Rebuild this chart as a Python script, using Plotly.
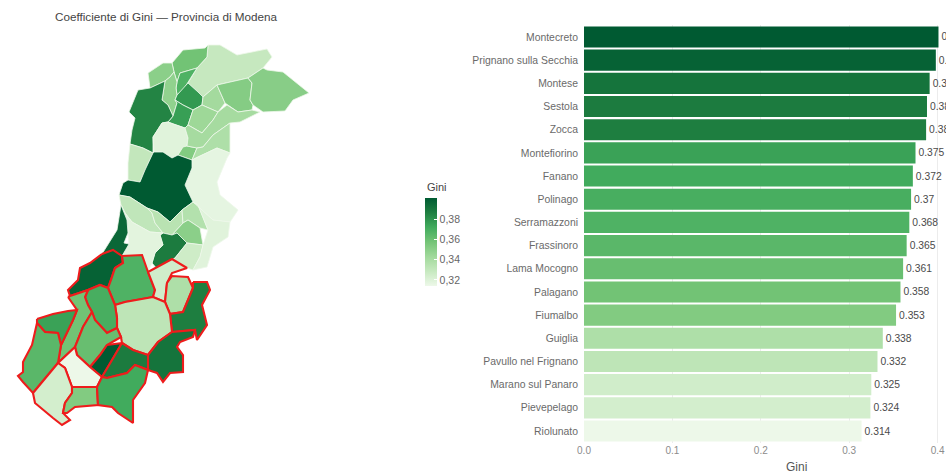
import plotly.graph_objects as go
from plotly.colors import sample_colorscale

# ---------- data ----------
comuni = ["Montecreto", "Prignano sulla Secchia", "Montese", "Sestola", "Zocca",
          "Montefiorino", "Fanano", "Polinago", "Serramazzoni", "Frassinoro",
          "Lama Mocogno", "Palagano", "Fiumalbo", "Guiglia", "Pavullo nel Frignano",
          "Marano sul Panaro", "Pievepelago", "Riolunato"]
gini = [0.401, 0.398, 0.391, 0.388, 0.387, 0.375, 0.372, 0.37, 0.368, 0.365,
        0.361, 0.358, 0.353, 0.338, 0.332, 0.325, 0.324, 0.314]
gini_labels = ["0.4", "0.398", "0.391", "0.388", "0.387", "0.375", "0.372", "0.37", "0.368",
               "0.365", "0.361", "0.358", "0.353", "0.338", "0.332", "0.325", "0.324", "0.314"]
x_ticks = [0.0, 0.1, 0.2, 0.3, 0.4]
x_tick_labels = ["0.0", "0.1", "0.2", "0.3", "0.4"]
bar_ticks = [0.32, 0.34, 0.36, 0.38]
bar_tick_labels = ["0,32", "0,34", "0,36", "0,38"]

# Outlines of the municipalities, in map units.
other_areas = [
    (0.329, [(208,45),(220,45),(237,55),(267,49),(272,57),(263,68),(248,78),(217,85),(203,97),(188,83),(197,68),(207,57)]),
    (0.358, [(172,63),(183,50),(205,48),(208,45),(207,57),(197,68),(180,73),(177,82),(174,72)]),
    (0.350, [(148,73),(163,63),(172,63),(174,72),(170,77),(165,81),(150,88)]),
    (0.368, [(177,82),(180,73),(197,68),(188,83),(185,87),(177,95),(176,88)]),
    (0.348, [(165,81),(170,77),(174,72),(177,82),(176,88),(177,95),(175,100),(177,103),(173,116),(168,105),(162,100)]),
    (0.378, [(177,95),(185,87),(188,83),(198,92),(203,97),(202,105),(193,110),(183,105),(175,100)]),
    (0.376, [(175,100),(183,105),(193,110),(188,125),(185,128),(173,124),(168,122),(173,116),(177,103)]),
    (0.385, [(138,90),(150,88),(165,81),(162,100),(168,105),(173,116),(168,122),(162,123),(153,137),(153,153),(143,148),(130,144),(132,130),(135,118),(129,112)]),
    (0.319, [(162,123),(168,122),(173,124),(185,128),(188,138),(187,146),(183,147),(178,155),(172,158),(163,152),(154,152),(153,137)]),
    (0.353, [(183,147),(187,146),(197,148),(192,160),(178,155)]),
    (0.342, [(203,97),(217,85),(225,103),(218,112),(202,105)]),
    (0.352, [(217,85),(248,78),(252,83),(250,100),(253,105),(252,110),(238,112),(227,105),(225,103)]),
    (0.351, [(248,78),(263,68),(267,70),(283,72),(309,93),(293,100),(285,111),(263,112),(253,105),(250,100),(252,83)]),
    (0.344, [(193,110),(202,105),(218,112),(213,120),(202,133),(188,125)]),
    (0.341, [(218,112),(227,105),(238,112),(252,110),(260,112),(240,122),(230,123),(213,135),(203,147),(197,148),(187,146),(188,138),(185,128),(188,125),(202,133),(213,120)]),
    (0.338, [(197,148),(203,147),(213,135),(230,123),(230,153),(217,148),(198,157),(192,160)]),
    (0.317, [(198,157),(217,148),(230,153),(227,158),(217,182),(220,195),(238,210),(230,222),(213,220),(193,202),(185,185),(192,168),(192,160)]),
    (0.330, [(130,144),(143,148),(153,153),(145,170),(140,182),(128,180),(128,163)]),
    (0.401, [(153,153),(154,152),(163,152),(172,158),(178,155),(192,160),(192,168),(185,185),(193,202),(182,210),(170,222),(158,212),(147,208),(130,197),(119,195),(123,183),(128,180),(140,182),(145,170)]),
    (0.331, [(119,195),(130,197),(147,208),(152,213),(155,223),(163,233),(150,232),(132,222),(125,213),(121,205)]),
    (0.334, [(147,208),(158,212),(170,222),(182,210),(183,223),(172,235),(163,233),(155,223),(152,213)]),
    (0.336, [(182,210),(193,202),(198,205),(208,230),(200,228),(188,220),(183,223)]),
    (0.350, [(172,235),(183,223),(188,220),(200,228),(203,245),(187,243),(177,233)]),
    (0.388, [(160,235),(163,233),(172,235),(177,233),(187,243),(175,258),(158,270),(152,263),(155,253),(163,245)]),
    (0.318, [(121,205),(125,213),(132,222),(150,232),(163,233),(160,235),(163,245),(155,253),(152,263),(150,268),(148,272),(142,255),(122,256),(129,244),(128,233),(127,220)]),
    (0.396, [(121,205),(127,220),(128,233),(124,243),(129,244),(122,256),(113,250),(102,254),(117,230)]),
    (0.326, [(187,243),(203,245),(200,257),(193,270),(187,268),(172,259),(158,270),(175,258)]),
    (0.319, [(193,202),(213,220),(230,222),(228,237),(213,247),(207,267),(193,270),(200,257),(203,245),(208,230),(198,205)]),
]
study_areas = {
    "Prignano sulla Secchia": [(102,254),(113,250),(122,256),(123,263),(115,268),(111,280),(108,288),(100,285),(88,290),(70,296),(68,290),(78,280),(80,268),(90,263)],
    "Serramazzoni": [(122,256),(142,255),(148,272),(155,290),(153,297),(125,302),(115,305),(112,298),(108,288),(111,280),(115,268),(123,263)],
    "Marano sul Panaro": [(148,272),(172,259),(187,268),(172,273),(167,283),(165,302),(153,297),(155,290)],
    "Guiglia": [(167,283),(172,276),(188,277),(193,288),(183,312),(170,314),(165,302)],
    "Zocca": [(193,282),(207,282),(210,290),(202,305),(207,325),(197,340),(195,330),(172,332),(170,314),(183,312),(193,288)],
    "Pavullo nel Frignano": [(115,305),(125,302),(153,297),(165,302),(170,314),(172,332),(158,342),(148,355),(133,350),(122,343),(121,337),(117,328),(117,318)],
    "Montese": [(148,355),(158,342),(172,332),(195,330),(193,337),(180,342),(177,347),(183,355),(183,372),(170,373),(163,382),(157,373),(148,370)],
    "Polinago": [(88,290),(100,285),(108,288),(112,298),(115,305),(117,318),(117,328),(107,333),(95,320),(92,312),(88,305),(85,297)],
    "Palagano": [(68,297),(70,296),(88,290),(85,297),(88,305),(92,312),(83,327),(77,343),(75,347),(58,363),(61,345),(73,320),(77,310)],
    "Montefiorino": [(37,319),(53,314),(68,311),(77,310),(73,320),(61,345),(58,333),(45,332),(37,323)],
    "Frassinoro": [(37,323),(45,332),(58,333),(61,345),(58,363),(33,393),(23,382),(18,376),(23,372),(23,362),(32,345)],
    "Lama Mocogno": [(92,312),(95,320),(107,333),(117,328),(121,337),(107,345),(100,355),(90,367),(77,355),(75,347),(83,327)],
    "Montecreto": [(107,345),(122,343),(115,355),(102,377),(90,367),(100,355)],
    "Sestola": [(122,343),(133,350),(148,355),(148,370),(135,365),(127,373),(107,378),(102,377),(115,355)],
    "Riolunato": [(75,347),(77,355),(90,367),(102,377),(97,387),(72,387),(65,368),(58,363)],
    "Pievepelago": [(58,363),(65,368),(72,387),(72,393),(65,403),(63,413),(70,420),(62,425),(53,418),(35,403),(33,393)],
    "Fiumalbo": [(72,387),(97,387),(98,405),(75,407),(67,413),(63,413),(65,403),(72,393)],
    "Fanano": [(97,387),(102,377),(107,378),(127,373),(135,365),(148,370),(145,383),(133,400),(133,423),(118,413),(112,407),(98,405)],
}

# ---------- style ----------
greens = [[0.0, "#edf8e9"], [1/6, "#c7e9c0"], [2/6, "#a1d99b"], [3/6, "#74c476"],
          [4/6, "#41ab5d"], [5/6, "#1f7f41"], [1.0, "#005a32"]]
cmin, cmax = 0.314, 0.401
W, H = 946, 473


def colour(v):
    return sample_colorscale(greens, (v - cmin) / (cmax - cmin))[0]


def area(points, value, line_colour, line_width):
    xs, ys = zip(*(points + points[:1]))
    return go.Scatter(x=xs, y=ys, xaxis="x2", yaxis="y2", mode="lines", fill="toself",
                      fillcolor=colour(value), hoverinfo="skip", showlegend=False,
                      line=dict(color=line_colour, width=line_width))


fig = go.Figure()
for value, pts in other_areas:
    fig.add_trace(area(pts, value, "#eef8ea", 0.8))
value_of = dict(zip(comuni, gini))
for name, pts in study_areas.items():
    fig.add_trace(area(pts, value_of[name], "#ee1c1c", 2.1))

fig.add_trace(go.Bar(
    x=gini, y=comuni, orientation="h", text=gini_labels, textposition="outside",
    cliponaxis=False, constraintext="none", width=0.91, showlegend=False,
    textfont=dict(family="Liberation Sans", size=10.3, color="#4a4a4a"),
    marker=dict(color=gini, colorscale=greens, cmin=cmin, cmax=cmax, line_width=0,
                colorbar=dict(x=425/W, xanchor="left", xpad=0, y=1-198/H, yanchor="top", ypad=0,
                              len=88, lenmode="pixels", thickness=12, outlinewidth=0,
                              tickvals=bar_ticks, ticktext=bar_tick_labels,
                              ticks="inside", ticklen=3, tickcolor="#ffffff", tickwidth=0.6,
                              tickfont=dict(family="Liberation Sans", size=10.5, color="#666666"))),
))

fig.update_layout(
    width=W, height=H, margin=dict(l=0, r=0, t=0, b=0, autoexpand=False),
    paper_bgcolor="white", plot_bgcolor="white", bargap=0.09,
    font=dict(family="Liberation Sans"),
    xaxis=dict(domain=[584/W, 1], range=[0, (W-584)/884], tickvals=x_ticks, ticktext=x_tick_labels,
               showgrid=True, gridcolor="#ececec", gridwidth=0.7, zeroline=False, showline=False, ticks="",
               tickfont=dict(size=10, color="#8c8c8c")),
    yaxis=dict(domain=[1-442.6/H, 1-25.4/H], range=[17.5, -0.5], type="category",
               categoryorder="array", categoryarray=comuni, showgrid=False, zeroline=False, ticks="",
               tickfont=dict(size=10.4, color="#6a6a6a"), ticklabelstandoff=5),
    xaxis2=dict(domain=[0, 400/W], range=[0, 400], visible=False, anchor="y2"),
    yaxis2=dict(domain=[0, 1], range=[H, 0], visible=False, anchor="x2"),
    annotations=[
        dict(text="Coefficiente di Gini — Provincia di Modena", xref="paper", yref="paper",
             x=53/W, y=1-17/H, xanchor="left", yanchor="middle", showarrow=False,
             font=dict(size=11.7, color="#444444")),
        dict(text="Gini", xref="paper", yref="paper", x=796/W, y=1-467/H, xanchor="center",
             yanchor="middle", showarrow=False, font=dict(size=12, color="#555555")),
        dict(text="Gini", xref="paper", yref="paper", x=425/W, y=1-187/H, xanchor="left",
             yanchor="middle", showarrow=False, font=dict(size=11, color="#444444")),
    ],
)

fig.write_html("out.html", config=dict(displayModeBar=False),
               post_script="document.body.style.margin='0';document.body.style.overflow='hidden';")
